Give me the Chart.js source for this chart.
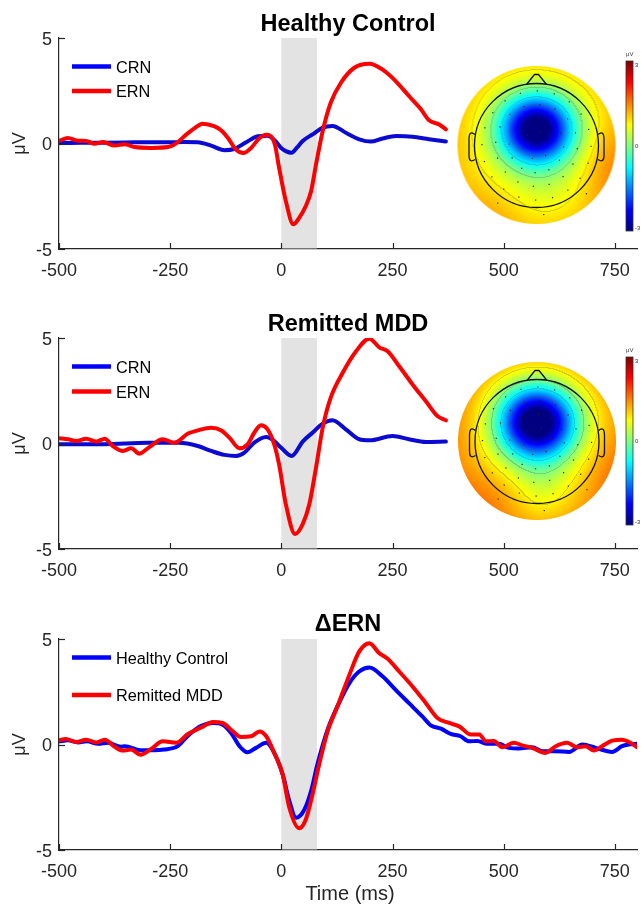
<!DOCTYPE html>
<html><head><meta charset="utf-8">
<script src="https://cdn.jsdelivr.net/npm/chart.js@4.4.1/dist/chart.umd.min.js"></script>
<style>
html,body{margin:0;padding:0;background:#fff;}
body{width:641px;height:904px;position:relative;overflow:hidden;}
canvas{position:absolute;left:0;}
</style></head><body>
<canvas id="c1" width="641" height="300" style="top:0;width:641px;height:300px"></canvas>
<canvas id="c2" width="641" height="300" style="top:300px;width:641px;height:300px"></canvas>
<canvas id="c3" width="641" height="304" style="top:600px;width:641px;height:304px"></canvas>
<script>
// ---------- data ----------
const xTicks = [-500, -250, 0, 250, 500, 750];
const yTicks = [-5, 0, 5];
const shadeWindow = [0, 80];

const panelTitles = ['Healthy Control', 'Remitted MDD', '\u0394ERN'];
const legend12 = ['CRN', 'ERN'];
const legend3 = ['Healthy Control', 'Remitted MDD'];

// Panel 1: Healthy Control
const hcTimeCRN = [-500,-450,-400,-350,-300,-250,-220,-188,-158,-128,-106,-79,-53,-31,-15,-1,10,23,35,48,70,93,115,145,175,201,228,258,295,332,370];
const hcCRN     = [0.02,0.03,0.04,0.05,0.06,0.06,0.07,0.06,-0.1,-0.32,-0.26,0.06,0.34,0.37,0.15,-0.2,-0.36,-0.44,-0.2,0.12,0.43,0.75,0.83,0.51,0.2,0.09,0.24,0.35,0.32,0.2,0.09];
const hcTimeERN = [-500,-480,-457,-439,-420,-401,-375,-353,-330,-293,-255,-236,-214,-195,-177,-150,-135,-120,-102,-85,-68,-49,-34,-23,-14,-5,10,27,40,55,67,78,93,111,134,164,198,227,257,287,314,332,355,370];
const hcERN     = [0.12,0.26,0.13,0.12,-0.01,0.07,-0.1,-0.03,-0.17,-0.21,-0.17,0.02,0.42,0.73,0.94,0.81,0.62,0.26,-0.29,-0.45,-0.21,0.26,0.42,0.34,-0.1,-1.15,-2.72,-3.83,-3.52,-2.96,-2.25,-0.99,0.59,1.93,2.88,3.59,3.78,3.51,2.96,2.25,1.62,1.1,0.9,0.67];

// Panel 2: Remitted MDD
const rmTimeCRN = [-500,-400,-300,-230,-188,-158,-128,-102,-83,-61,-34,-20,-1,23,48,70,93,115,145,175,198,250,287,325,370];
const rmCRN     = [-0.03,-0.03,0.03,0.03,-0.12,-0.35,-0.54,-0.59,-0.43,0.04,0.31,0.18,-0.19,-0.59,0.09,0.51,0.94,1.1,0.67,0.2,0.15,0.35,0.2,0.07,0.09];
const rmTimeERN = [-500,-480,-461,-439,-416,-397,-379,-356,-338,-319,-297,-267,-240,-210,-188,-158,-135,-117,-94,-76,-61,-46,-31,-16,-5,10,31,48,63,78,93,111,138,168,198,220,239,265,295,325,351,370];
const rmERN     = [0.25,0.2,0.12,0.23,0.09,0.23,-0.12,-0.35,-0.23,-0.48,-0.17,0.2,0.04,0.47,0.62,0.75,0.62,0.28,-0.23,-0.04,0.51,0.87,0.67,-0.04,-1.0,-2.87,-4.29,-3.82,-2.87,-1.14,0.75,2.17,3.35,4.37,4.97,4.56,4.37,3.66,2.8,2.0,1.3,1.1];

// Panel 3: Delta ERN
const dTimeHC = [-500,-480,-457,-437,-412,-390,-361,-352,-317,-287,-264,-233,-210,-180,-154,-132,-113,-94,-76,-57,-34,-20,3,18,33,52,67,81,104,126,153,175,198,228,257,287,317,336,359,381,403,422,441,463,489,512,534,564,587,617,647,677,707,744,766,781,800];
const dHC     = [0.15,0.2,0.1,0.15,0.03,0.08,-0.11,-0.08,-0.27,-0.27,-0.24,-0.08,0.42,0.89,1.02,0.94,0.55,-0.08,-0.37,-0.16,0.08,-0.24,-1.42,-2.68,-3.47,-3.08,-2.2,-0.95,0.7,1.8,2.91,3.46,3.65,3.22,2.59,1.96,1.33,0.91,0.75,0.5,0.39,0.15,0.17,0.03,0.03,-0.16,-0.19,-0.13,-0.32,-0.32,-0.35,0,-0.16,-0.35,-0.08,0,0.03];
const dTimeRM = [-500,-485,-461,-439,-416,-397,-375,-356,-338,-317,-293,-267,-236,-210,-180,-154,-132,-109,-91,-68,-49,-34,-16,3,18,40,55,70,85,104,126,153,175,198,220,239,265,295,325,351,377,400,426,445,460,478,497,523,542,564,594,617,643,665,684,703,721,744,766,785,800];
const dRM     = [0.2,0.26,0.12,0.23,0.1,0.23,-0.11,-0.29,-0.24,-0.48,-0.21,0.15,0.08,0.5,0.81,1.07,1.02,0.62,0.36,0.39,0.62,0.39,-0.4,-1.42,-3.0,-3.97,-3.55,-2.37,-0.95,0.62,1.8,3.3,4.4,4.8,4.33,4.06,3.46,2.75,1.96,1.26,1.02,0.86,0.47,0.47,0.15,0.17,-0.13,0.08,-0.04,-0.16,-0.4,-0.08,0.08,-0.13,-0.08,-0.29,-0.08,0.18,0.23,0.08,-0.13];

// Topographic map field parameters (decoration): [cx, cy, sx, sy, amplitude]
const topoHC = { base:0.55, edge:0.45, bumps:[[0,-0.2,0.32,0.3,-4.0],[0.95,0.3,0.28,0.4,0.45],[-0.95,0.05,0.3,0.5,0.1],[-0.55,0.85,0.3,0.3,0.2],[0.1,0.55,0.3,0.25,-0.15]] };
const topoRM = { base:0.7, edge:0.55, bumps:[[0,-0.24,0.34,0.32,-4.3],[-0.6,0.7,0.35,0.3,0.3],[0.95,0.4,0.3,0.4,0.3],[0.05,0.6,0.25,0.3,-0.35],[-0.9,-0.1,0.3,0.4,0.15]] };

// ---------- helpers ----------
const FONT = "'Liberation Sans', Arial, sans-serif";
const pts = (t, v) => t.map((x, i) => ({ x: x, y: v[i] }));
const cl = v => Math.max(0, Math.min(1, v));
function jet(t) {
  t = cl(t);
  return [cl(1.5 - Math.abs(4 * t - 3)) * 255, cl(1.5 - Math.abs(4 * t - 2)) * 255, cl(1.5 - Math.abs(4 * t - 1)) * 255];
}

function drawTopo(ctx, p) {
  const R = p.r, size = 2 * R + 4, c = R + 2;
  const off = document.createElement('canvas'); off.width = size; off.height = size;
  const octx = off.getContext('2d');
  const img = octx.createImageData(size, size);
  const f = p.field;
  const val = (u, v) => {
    let s = f.base + f.edge * (u * u + v * v);
    for (const b of f.bumps) s += b[4] * Math.exp(-((u - b[0]) ** 2 / (2 * b[2] ** 2) + (v - b[1]) ** 2 / (2 * b[3] ** 2)));
    return s;
  };
  const vals = new Float32Array(size * size);
  for (let y = 0; y < size; y++) for (let x = 0; x < size; x++) vals[y * size + x] = val((x - c + 0.5) / R, (y - c + 0.5) / R);
  const lev = s => Math.floor((Math.max(-2.4, s) + 2.4) / 0.8);
  for (let y = 0; y < size; y++) for (let x = 0; x < size; x++) {
    const d = Math.hypot(x - c + 0.5, y - c + 0.5);
    const a = cl(R - d + 0.5);
    if (a <= 0) continue;
    const i = y * size + x, s = vals[i];
    let [r, g, b] = jet((s + 3) / 6);
    const L = lev(s);
    if ((x > 0 && lev(vals[i - 1]) !== L) || (y > 0 && lev(vals[i - size]) !== L)) {
      r = r * 0.72 + 25; g = g * 0.72 + 25; b = b * 0.72 + 25;
    }
    img.data[i * 4] = r; img.data[i * 4 + 1] = g; img.data[i * 4 + 2] = b; img.data[i * 4 + 3] = a * 255;
  }
  octx.putImageData(img, 0, 0);
  ctx.drawImage(off, p.cx - c, p.cy - c);
  // head outline
  const hr = p.hr, cx = p.cx, cy = p.cy + 0.5;
  ctx.save();
  ctx.strokeStyle = '#111'; ctx.lineWidth = 1.3;
  ctx.beginPath(); ctx.arc(cx, cy, hr, 0, Math.PI * 2); ctx.stroke();
  ctx.beginPath(); ctx.moveTo(cx - 10, cy - hr + 1); ctx.lineTo(cx - 2, cy - hr - 9); ctx.lineTo(cx + 2, cy - hr - 9); ctx.lineTo(cx + 10, cy - hr + 1); ctx.stroke();
  [-1, 1].forEach(sd => {
    ctx.beginPath();
    ctx.moveTo(cx + sd * (hr - 0.5), cy - 11);
    ctx.quadraticCurveTo(cx + sd * (hr + 5.5), cy - 16, cx + sd * (hr + 5.5), cy - 6);
    ctx.lineTo(cx + sd * (hr + 5.5), cy + 10);
    ctx.quadraticCurveTo(cx + sd * (hr + 5.5), cy + 18, cx + sd * (hr - 0.5), cy + 14);
    ctx.stroke();
  });
  // electrodes
  ctx.fillStyle = '#222';
  const rings = [[0, 1, 0], [0.22, 6, 0.3], [0.44, 12, 0.1], [0.66, 16, 0.2], [0.88, 20, 0.05], [1.12, 9, 0.35]];
  rings.forEach(([fr, n, ph]) => {
    for (let k = 0; k < n; k++) {
      const ang = (k / n + ph / n) * Math.PI * 2;
      const ex = cx + Math.sin(ang) * fr * hr, ey = cy - Math.cos(ang) * fr * hr;
      if (fr > 1 && Math.abs(ang - Math.PI) > 1.2) continue;
      ctx.fillRect(ex - 0.6, ey - 0.6, 1.2, 1.2);
    }
  });
  // colorbar
  const cb = p.cb;
  const grad = ctx.createLinearGradient(0, cb.y1, 0, cb.y0);
  [[0, 0], [0.125, 0.125], [0.375, 0.375], [0.625, 0.625], [0.875, 0.875], [1, 1]].forEach(([s, t]) => {
    const [r, g, b] = jet(t); grad.addColorStop(s, `rgb(${r|0},${g|0},${b|0})`);
  });
  ctx.fillStyle = grad; ctx.fillRect(cb.x0, cb.y0, cb.x1 - cb.x0, cb.y1 - cb.y0);
  ctx.strokeStyle = '#333'; ctx.lineWidth = 0.8; ctx.strokeRect(cb.x0, cb.y0, cb.x1 - cb.x0, cb.y1 - cb.y0);
  ctx.fillStyle = '#333'; ctx.font = '6px ' + FONT; ctx.textBaseline = 'middle'; ctx.textAlign = 'left';
  ctx.fillText('3', cb.x1 + 2, cb.y0 + 4);
  ctx.fillText('0', cb.x1 + 2, (cb.y0 + cb.y1) / 2);
  ctx.fillText('-3', cb.x1 + 2, cb.y1 - 3);
  ctx.fillText('\u03BCV', cb.x0, cb.y0 - 7);
  ctx.restore();
}

function makeOverlay(cfg) {
  return {
    id: 'overlay',
    beforeDatasetsDraw(chart) {
      const { ctx, chartArea: a, scales: { x } } = chart;
      const x0 = x.getPixelForValue(shadeWindow[0]), x1 = x.getPixelForValue(shadeWindow[1]);
      ctx.save(); ctx.fillStyle = '#e3e3e3';
      ctx.fillRect(x0, a.top, x1 - x0, a.bottom - a.top - 0.6);
      ctx.restore();
    },
    afterDraw(chart) {
      const { ctx, chartArea: a, scales: { x, y } } = chart;
      ctx.save();
      // inward ticks
      ctx.strokeStyle = '#262626'; ctx.lineWidth = 1.2;
      xTicks.forEach(v => { const px = Math.round(x.getPixelForValue(v)) + 0.5; ctx.beginPath(); ctx.moveTo(px, a.bottom); ctx.lineTo(px, a.bottom - 6); ctx.stroke(); });
      yTicks.forEach(v => { const py = Math.round(y.getPixelForValue(v)) + 0.5; ctx.beginPath(); ctx.moveTo(a.left, py); ctx.lineTo(a.left + 6, py); ctx.stroke(); });
      // title
      ctx.fillStyle = '#000'; ctx.font = 'bold 23.5px ' + FONT; ctx.textAlign = 'center'; ctx.textBaseline = 'alphabetic';
      ctx.fillText(cfg.title, (a.left + a.right) / 2, 31);
      // y label
      ctx.save(); ctx.translate(20, (a.top + a.bottom) / 2); ctx.rotate(-Math.PI / 2);
      ctx.font = '18px ' + FONT; ctx.fillStyle = '#262626'; ctx.textBaseline = 'middle'; ctx.textAlign = 'center';
      ctx.fillText('\u03BCV', 0, 0); ctx.restore();
      // x label
      if (cfg.xlabel) {
        ctx.font = '20px ' + FONT; ctx.fillStyle = '#262626'; ctx.textAlign = 'center'; ctx.textBaseline = 'alphabetic';
        ctx.fillText(cfg.xlabel, 350, 300);
      }
      // legend
      cfg.legend.forEach((L, i) => {
        const ly = cfg.legendY[i];
        ctx.strokeStyle = L.color; ctx.lineWidth = 4.5; ctx.lineCap = 'butt';
        ctx.beginPath(); ctx.moveTo(72, ly); ctx.lineTo(111, ly); ctx.stroke();
        ctx.fillStyle = '#000'; ctx.font = '16.3px ' + FONT; ctx.textAlign = 'left'; ctx.textBaseline = 'alphabetic';
        ctx.fillText(L.text, 116, ly + 6);
      });
      ctx.restore();
      if (cfg.topo) drawTopo(ctx, cfg.topo);
    }
  };
}

function makeChart(id, cfg) {
  const ctx = document.getElementById(id);
  return new Chart(ctx, {
    type: 'line',
    data: { datasets: cfg.datasets.map(d => ({
      data: d.data, borderColor: d.color, borderWidth: 4, pointRadius: 0, fill: false,
      cubicInterpolationMode: 'monotone', borderJoinStyle: 'round', borderCapStyle: 'round'
    })) },
    options: {
      responsive: false, animation: false, devicePixelRatio: 1,
      layout: { padding: { top: cfg.top, left: 0, right: 3, bottom: 0 } },
      plugins: { legend: { display: false }, tooltip: { enabled: false }, title: { display: false } },
      scales: {
        x: {
          type: 'linear', min: -500, max: 800,
          afterBuildTicks: s => { s.ticks = xTicks.map(v => ({ value: v })); },
          afterFit: s => { s.height = cfg.xh; },
          grid: { display: false, drawTicks: false },
          border: { display: true, color: '#262626', width: 1.2 },
          ticks: { font: { family: FONT, size: 18 }, color: '#262626', padding: 11, maxRotation: 0, autoSkip: false, callback: v => String(v) }
        },
        y: {
          min: -5, max: 5,
          afterBuildTicks: s => { s.ticks = yTicks.map(v => ({ value: v })); },
          afterFit: s => { s.width = 59; },
          grid: { display: false, drawTicks: false },
          border: { display: true, color: '#262626', width: 1.2 },
          ticks: { font: { family: FONT, size: 18 }, color: '#262626', padding: 7, labelOffset: 2, callback: v => String(v) }
        }
      }
    },
    plugins: [makeOverlay(cfg)]
  });
}

makeChart('c1', {
  title: panelTitles[0], top: 38, xh: 51,
  datasets: [{ data: pts(hcTimeERN, hcERN), color: '#ff0000' }, { data: pts(hcTimeCRN, hcCRN), color: '#0a0ad2' }],
  legend: [{ text: legend12[0], color: '#0000ff' }, { text: legend12[1], color: '#ff0000' }], legendY: [66.5, 91],
  topo: { cx: 536.5, cy: 145, r: 79, hr: 62, field: topoHC, cb: { x0: 626, x1: 633, y0: 61, y1: 231 } }
});
makeChart('c2', {
  title: panelTitles[1], top: 38, xh: 51,
  datasets: [{ data: pts(rmTimeERN, rmERN), color: '#ff0000' }, { data: pts(rmTimeCRN, rmCRN), color: '#0a0ad2' }],
  legend: [{ text: legend12[0], color: '#0000ff' }, { text: legend12[1], color: '#ff0000' }], legendY: [66.5, 91.5],
  topo: { cx: 537, cy: 141, r: 79, hr: 62, field: topoRM, cb: { x0: 626, x1: 633, y0: 57, y1: 225 } }
});
makeChart('c3', {
  title: panelTitles[2], top: 39, xh: 54, xlabel: 'Time (ms)',
  datasets: [{ data: pts(dTimeRM, dRM), color: '#ff0000' }, { data: pts(dTimeHC, dHC), color: '#0000ff' }],
  legend: [{ text: legend3[0], color: '#0000ff' }, { text: legend3[1], color: '#ff0000' }], legendY: [57.5, 95]
});
</script></body></html>
